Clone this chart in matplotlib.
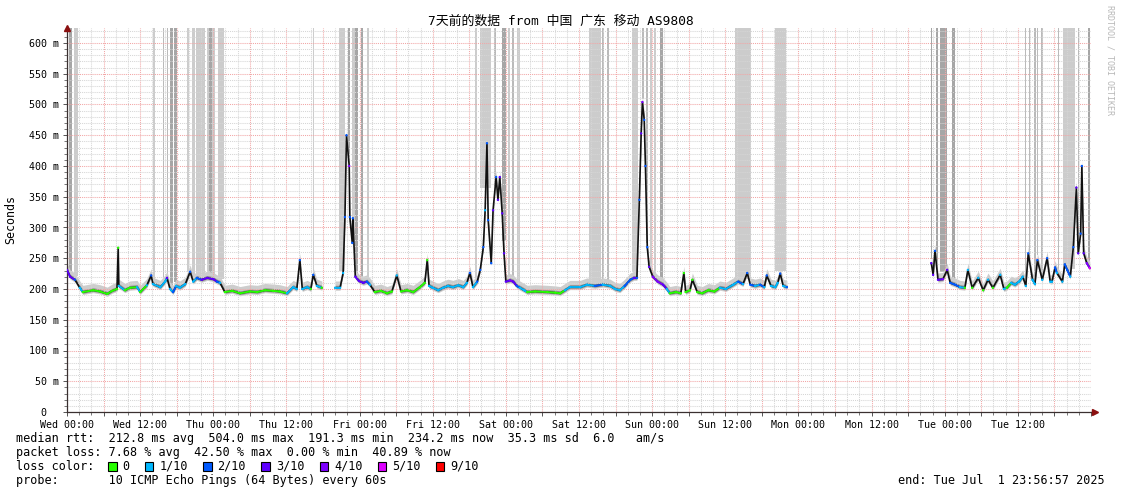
import matplotlib
matplotlib.use("Agg")
import matplotlib.pyplot as plt
from matplotlib.collections import LineCollection
from matplotlib.patches import Rectangle
import numpy as np

# ---- data (hours since Wed 00:00, median rtt in ms, lost pings out of 10) ----
seg1_hours = [0.0, 0.5, 1.3, 2.1, 2.6, 4.3, 5.4, 6.6, 7.4, 8.2,
              8.4, 8.5, 9.5, 10.3, 11.5, 12.0, 13.1, 13.8, 14.1, 15.3,
              16.1, 16.4, 16.9, 17.4, 17.9, 18.5, 19.4, 20.2, 20.7, 21.3,
              22.1, 23.0, 24.0, 24.6, 25.1, 25.9, 27.1, 28.4, 30.0, 31.2,
              32.5, 33.8, 34.9, 36.1, 37.1, 37.7, 38.2, 38.6, 39.4, 40.0,
              40.4, 41.0, 41.8]
seg1_rtt = [231, 220, 215, 202, 195, 198, 196, 192, 197, 200,
            267, 205, 198, 202, 203, 195, 206, 222, 208, 203,
            212, 218, 200, 195, 205, 202, 208, 228, 212, 218,
            215, 218, 216, 212, 210, 195, 197, 193, 196, 195,
            198, 197, 196, 193, 203, 200, 247, 200, 203, 200,
            223, 205, 202]
seg1_loss = [3, 3, 2, 1, 0, 0, 0, 0, 0, 0,
             0, 1, 0, 0, 1, 0, 1, 2, 1, 1,
             1, 3, 1, 2, 1, 1, 1, 2, 1, 2,
             3, 3, 3, 2, 1, 0, 0, 0, 0, 0,
             0, 0, 0, 1, 1, 1, 2, 1, 1, 0,
             2, 1, 0]

seg2_hours = [44.0, 44.8, 45.3, 45.6, 45.85, 46.3, 46.4, 46.8, 46.9, 47.3,
              47.9, 48.6, 49.2, 49.7, 50.5, 51.5, 52.5, 53.3, 54.1, 54.8,
              55.8, 56.8, 57.9, 58.7, 59.1, 59.4, 60.0, 60.9, 61.7, 62.5,
              63.3, 64.2, 65.0, 65.6, 66.1, 66.6, 67.3, 67.8, 68.3, 68.6,
              68.9, 69.1, 69.6, 69.9, 70.4, 70.7, 71.0, 71.4, 71.7, 72.0,
              72.7, 73.2, 73.8, 74.3, 75.0, 75.5, 76.8, 78.8, 80.1, 80.9,
              81.7, 82.5, 84.2, 85.3, 86.6, 87.9, 89.1, 89.9, 90.7, 91.5,
              92.4, 93.0, 93.5, 93.9, 94.2, 94.4, 94.7, 94.9, 95.2, 95.5,
              96.1, 96.9, 97.8, 98.4, 98.9, 99.9, 100.7, 101.2, 101.5, 102.2,
              102.6, 103.4, 104.2, 105.2, 106.2, 107.1, 108.1, 109.3, 110.1, 110.9,
              111.6, 112.1, 112.9, 113.7, 114.4, 114.8, 115.5, 116.2, 116.6, 117.0,
              117.5, 118.1]
seg2_rtt = [202, 202, 226, 317, 450, 400, 317, 275, 315, 220,
            213, 210, 212, 207, 195, 197, 193, 196, 222, 196,
            198, 195, 203, 210, 247, 205, 202, 198, 202, 205,
            203, 206, 203, 210, 226, 203, 212, 231, 268, 328,
            437, 312, 242, 328, 382, 345, 382, 323, 258, 212,
            214, 212, 205, 202, 198, 195, 196, 195, 194, 193,
            198, 203, 203, 207, 205, 207, 205, 200, 198, 205,
            215, 218, 218, 345, 453, 504, 475, 400, 268, 236,
            220, 212, 207, 200, 193, 195, 193, 226, 195, 198,
            215, 195, 193, 198, 196, 202, 200, 207, 212, 208,
            226, 207, 205, 207, 203, 222, 205, 203, 210, 225,
            205, 203]
seg2_loss = [1, 1, 1, 2, 2, 4, 2, 2, 2, 3,
             3, 3, 2, 1, 0, 0, 0, 0, 1, 0,
             0, 0, 0, 0, 0, 1, 1, 1, 1, 1,
             1, 1, 1, 1, 2, 1, 2, 2, 2, 1,
             2, 2, 2, 3, 2, 3, 3, 3, 3, 3,
             4, 3, 2, 1, 1, 0, 0, 0, 0, 0,
             1, 1, 1, 1, 2, 1, 1, 1, 1, 2,
             2, 3, 2, 2, 3, 4, 2, 2, 2, 3,
             4, 4, 3, 1, 0, 0, 0, 0, 0, 0,
             0, 0, 0, 0, 0, 1, 1, 1, 2, 1,
             2, 2, 1, 2, 1, 2, 1, 1, 1, 2,
             1, 2]

seg3_hours = [141.8, 142.1, 142.4, 142.9, 143.7, 144.4, 144.9, 145.7, 146.5, 147.3,
              147.8, 148.5, 149.5, 150.3, 151.1, 151.9, 153.1, 153.7, 154.2, 154.9,
              155.5, 156.2, 156.8, 157.3, 157.7, 158.4, 158.8, 159.2, 160.0, 160.8,
              161.3, 161.6, 162.1, 162.4, 163.3, 163.7, 164.1, 164.6, 165.1, 165.6,
              165.9, 166.3, 166.5, 166.8, 167.3, 167.8]
seg3_rtt = [242, 223, 262, 215, 216, 231, 210, 207, 203, 202,
            231, 202, 218, 198, 215, 202, 223, 200, 202, 210,
            207, 212, 220, 205, 258, 215, 208, 247, 215, 250,
            212, 212, 235, 226, 212, 240, 231, 220, 268, 365,
            258, 290, 400, 258, 242, 234]
seg3_loss = [3, 3, 2, 3, 4, 3, 2, 2, 1, 0,
             1, 0, 1, 0, 1, 0, 1, 1, 0, 1,
             1, 1, 1, 1, 2, 1, 1, 2, 1, 2,
             1, 1, 2, 1, 1, 2, 2, 1, 2, 3,
             3, 2, 2, 3, 4, 5]

# loss bars reaching off the top of the graph (hours, density level)
bar_start = [0.28, 1.15, 14.1, 14.9, 15.7, 16.4, 16.9, 17.6, 19.7, 20.5,
             21.2, 23.0, 23.35, 23.8, 24.8, 40.4, 44.7, 46.1, 46.8, 47.3,
             48.2, 49.2, 66.9, 67.8, 70.0, 71.3, 72.4, 73.05, 73.8, 85.65,
             87.8, 88.6, 92.75, 94.3, 95.05, 95.7, 96.25, 97.35, 109.6, 116.2,
             141.7, 142.6, 143.2, 145.2, 157.1, 157.8, 158.65, 159.1, 159.85, 162.6,
             163.45, 165.9, 167.5]
bar_end = [0.82, 1.80, 14.4, 15.0, 15.9, 16.6, 17.4, 18.0, 20.0, 21.05,
           22.7, 23.25, 23.75, 24.3, 25.75, 40.55, 45.65, 46.4, 47.3, 47.75,
           48.55, 49.55, 67.3, 69.55, 70.35, 72.0, 72.7, 73.4, 74.25, 87.6,
           88.15, 88.9, 93.7, 94.6, 95.4, 95.9, 96.7, 97.8, 112.2, 118.0,
           141.95, 142.9, 144.4, 145.65, 157.35, 158.0, 158.9, 159.3, 160.1, 162.8,
           165.4, 166.1, 167.85]
bar_level = [3, 1, 1, 1, 2, 2, 3, 3, 1, 1,
             1, 1, 3, 1, 1, 1, 1, 3, 1, 3,
             3, 1, 1, 1, 2, 3, 1, 2, 1, 1,
             2, 2, 1, 2, 2, 1, 1, 3, 1, 1,
             3, 3, 3, 3, 2, 2, 2, 2, 2, 2,
             1, 2, 3]

time_labels = ["Wed 00:00", "Wed 12:00", "Thu 00:00", "Thu 12:00", "Fri 00:00",
               "Fri 12:00", "Sat 00:00", "Sat 12:00", "Sun 00:00", "Sun 12:00",
               "Mon 00:00", "Mon 12:00", "Tue 00:00", "Tue 12:00"]
loss_labels = ["0", "1/10", "2/10", "3/10", "4/10", "5/10", "9/10"]
loss_colors = ["#26ff00", "#00b8ff", "#0059ff", "#5e00ff", "#7e00ff", "#dd00ff", "#ff0000"]

title = "7天前的数据 from 中国 广东 移动 AS9808"
stat_lines = [
    "median rtt:  212.8 ms avg  504.0 ms max  191.3 ms min  234.2 ms now  35.3 ms sd  6.0   am/s",
    "packet loss: 7.68 % avg  42.50 % max  0.00 % min  40.89 % now",
]
probe_line = "probe:       10 ICMP Echo Pings (64 Bytes) every 60s"
end_line = "end: Tue Jul  1 23:56:57 2025"

# ---- styling ----
W, H = 1121, 494
MONO = "DejaVu Sans Mono"
BAR_SHADES = {1: "#cccccc", 2: "#bababa", 3: "#a6a6a6"}
Y_TOP = 625


def fx(px):
    return px / W


def fy(py):
    return 1 - py / H


def loss_color(n):
    # 6..8 lost pings share the 5/10 colour, 9+ is red
    idx = n if n <= 5 else (5 if n < 9 else 6)
    return loss_colors[idx]


fig = plt.figure(figsize=(W / 100, H / 100), dpi=100)
fig.patch.set_facecolor("white")
ax = fig.add_axes([fx(67), fy(412), (1091 - 67) / W, Y_TOP * 0.615 / H])
ax.set_xlim(0, 168)
ax.set_ylim(0, Y_TOP)

segments = [(seg1_hours, seg1_rtt, seg1_loss),
            (seg2_hours, seg2_rtt, seg2_loss),
            (seg3_hours, seg3_rtt, seg3_loss)]
all_t = np.concatenate([s[0] for s in segments])
all_y = np.concatenate([s[1] for s in segments]).astype(float)

# loss bars, starting just above the smoke
for s, e, lv in zip(bar_start, bar_end, bar_level):
    base = np.interp((s + e) / 2, all_t, all_y) + 9
    ax.bar(s, Y_TOP - base, width=e - s, bottom=base, align="edge",
           color=BAR_SHADES[lv], linewidth=0, zorder=1)

# smoke + median
for t, y, lo in segments:
    t = np.asarray(t)
    y = np.asarray(y, dtype=float)
    ax.fill_between(t, y - 4, y + 11, color="#cdcdcd", linewidth=0, zorder=1.1)
    ax.fill_between(t, y - 2, y + 4, color="#8e8e8e", linewidth=0, zorder=1.2)
    ax.plot(t, y, color="#111111", linewidth=1.2, zorder=2.5)

    segs, cols = [], []
    for i in range(len(t) - 1):
        if abs(y[i + 1] - y[i]) < 12:
            segs.append([(t[i], y[i]), (t[i + 1], y[i + 1])])
            cols.append(loss_color(lo[i]))
    ax.add_collection(LineCollection(segs, colors=cols, linewidths=1.35, zorder=3))
    ax.scatter(t, y, s=3, c=[loss_color(n) for n in lo], linewidths=0, zorder=3.5)

# grid and ticks
major_x = np.arange(0, 169, 6)
ax.set_xticks(major_x)
ax.set_xticklabels([time_labels[i // 2] if i % 2 == 0 and i // 2 < len(time_labels) else ""
                    for i in range(len(major_x))])
ax.set_xticks(np.arange(0, 169, 2), minor=True)
ax.set_yticks(np.arange(0, 601, 50))
ax.set_yticklabels(["0  "] + [f"{v} m" for v in range(50, 601, 50)])
ax.set_yticks(np.arange(0, Y_TOP, 10), minor=True)
ax.set_axisbelow("line")
ax.grid(which="major", color="#f2a6a6", linestyle=(0, (1, 1)), linewidth=0.75)
ax.grid(which="minor", color="#d6d6d6", linestyle=(0, (1, 1)), linewidth=0.75)
ax.tick_params(which="major", length=3, width=0.7, color="#555555", labelsize=7.2, pad=2.5)
ax.tick_params(which="minor", length=2, width=0.7, color="#777777")
for lab in ax.get_xticklabels() + ax.get_yticklabels():
    lab.set_fontfamily(MONO)

for side in ("top", "right"):
    ax.spines[side].set_visible(False)
for side in ("left", "bottom"):
    ax.spines[side].set_color("#3a3030")
    ax.spines[side].set_linewidth(0.9)

# axis arrows
ax.plot([0], [1.0], marker="^", markersize=4.5, color="#8b1010",
        transform=ax.transAxes, clip_on=False, zorder=6)
ax.plot([1.0035], [0], marker=">", markersize=4.5, color="#8b1010",
        transform=ax.transAxes, clip_on=False, zorder=6)
ax.plot([1.0, 1.003], [0, 0], color="#3a3030", linewidth=0.9,
        transform=ax.transAxes, clip_on=False)

# text
fig.text(fx(560.5), fy(21), title, ha="center", va="center", fontsize=9.3,
         family=[MONO, "Noto Sans CJK SC"])
fig.text(fx(11), fy(219), "Seconds", rotation=90, ha="center", va="center",
         fontsize=8.4, family=MONO)
fig.text(fx(1110), fy(60), "RRDTOOL / TOBI OETIKER", rotation=270, ha="center",
         va="center", fontsize=6, family=MONO, color="#b8b8b8")

for k, line in enumerate(stat_lines):
    fig.text(fx(16), fy(438 + 14 * k), line, ha="left", va="center",
             fontsize=8.5, family=MONO)
fig.text(fx(16), fy(466), "loss color:", ha="left", va="center", fontsize=8.5, family=MONO)
bx = 108.0
for lab, col in zip(loss_labels, loss_colors):
    fig.add_artist(Rectangle((fx(bx), fy(470.5)), 8.5 / W, 8.5 / H,
                             transform=fig.transFigure, facecolor=col,
                             edgecolor="black", linewidth=0.8))
    fig.text(fx(bx + 14.5), fy(466), lab, ha="left", va="center", fontsize=8.5, family=MONO)
    bx += 14.5 + len(lab) * 7.1 + 15.3
fig.text(fx(16), fy(480), probe_line, ha="left", va="center", fontsize=8.5, family=MONO)
fig.text(fx(1105), fy(480), end_line, ha="right", va="center", fontsize=8.5, family=MONO)

fig.savefig("out.png", dpi=100)
